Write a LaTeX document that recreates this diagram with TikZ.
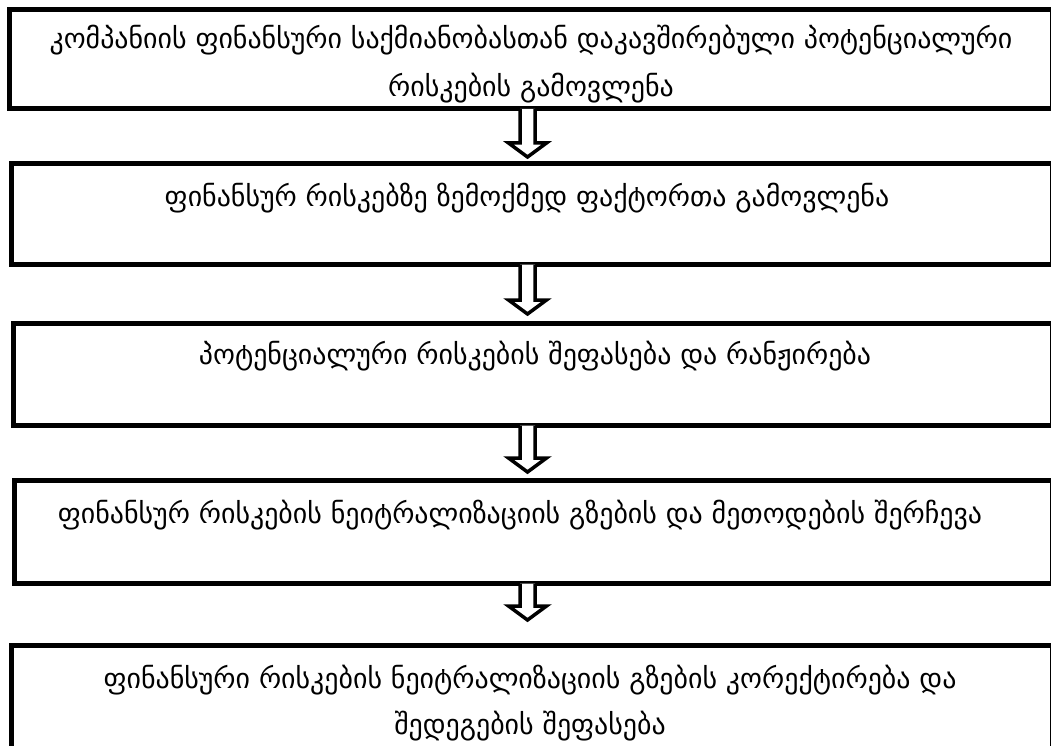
\documentclass[tikz,border=0pt]{standalone}
\usepackage{fontspec}
\newfontfamily\geo{DejaVu Sans}
\usetikzlibrary{calc}
\begin{document}
\begin{tikzpicture}[x=1pt,y=-1pt,
  box/.style={draw, line width=5pt, inner sep=0pt, outer sep=0pt},
  lbl/.style={font=\geo\fontsize{27.9}{32}\selectfont, inner sep=0pt, anchor=base},
  barrow/.style={draw, line width=3.5pt, fill=white, miter limit=10}]
\useasboundingbox (0,0) rectangle (1051,746);
\coordinate (ax) at (527.5,0);
\node[box, minimum width=1043pt, minimum height=99.5pt] (b1) at (530.5,59.25) {};
\node[box, minimum width=1041pt, minimum height=101pt] (b2) at (531.5,214) {};
\node[box, minimum width=1039pt, minimum height=102pt] (b3) at (532.5,374.5) {};
\node[box, minimum width=1037.5pt, minimum height=103pt] (b4) at (533.25,532) {};
\node[box, minimum width=1041pt, minimum height=104.5pt] (b5) at (531.5,697.75) {};
\node[lbl] (t1a) at (531,49) {კომპანიის ფინანსური საქმიანობასთან დაკავშირებული პოტენციალური};
\node[lbl] (t1b) at (531,97) {რისკების გამოვლენა};
\node[lbl] (t2) at (527,206) {ფინანსურ რისკებზე ზემოქმედ ფაქტორთა გამოვლენა};
\node[lbl] (t3) at (535,364) {პოტენციალური რისკების შეფასება და რანჟირება};
\node[lbl] (t4) at (520,523) {ფინანსურ რისკების ნეიტრალიზაციის გზების და მეთოდების შერჩევა};
\node[lbl] (t5a) at (530,688) {ფინანსური რისკების ნეიტრალიზაციის გზების კორექტირება და};
\node[lbl] (t5b) at (530,734) {შედეგების შეფასება};
\draw[barrow] ($(b1.south -| ax)+(-7.5,0)$) -- ++(0,34) -- ++(-11.5,0) -- ++(19,14) -- ++(19,-14) -- ++(-11.5,0) -- ++(0,-34);
\draw[barrow] ($(b2.south -| ax)+(-7.5,0)$) -- ++(0,35.5) -- ++(-11.5,0) -- ++(19,14) -- ++(19,-14) -- ++(-11.5,0) -- ++(0,-35.5);
\draw[barrow] ($(b3.south -| ax)+(-7.5,0)$) -- ++(0,32.5) -- ++(-11.5,0) -- ++(19,14) -- ++(19,-14) -- ++(-11.5,0) -- ++(0,-32.5);
\draw[barrow] ($(b4.south -| ax)+(-7.5,0)$) -- ++(0,22.5) -- ++(-11.5,0) -- ++(19,14) -- ++(19,-14) -- ++(-11.5,0) -- ++(0,-22.5);
\end{tikzpicture}
\end{document}
